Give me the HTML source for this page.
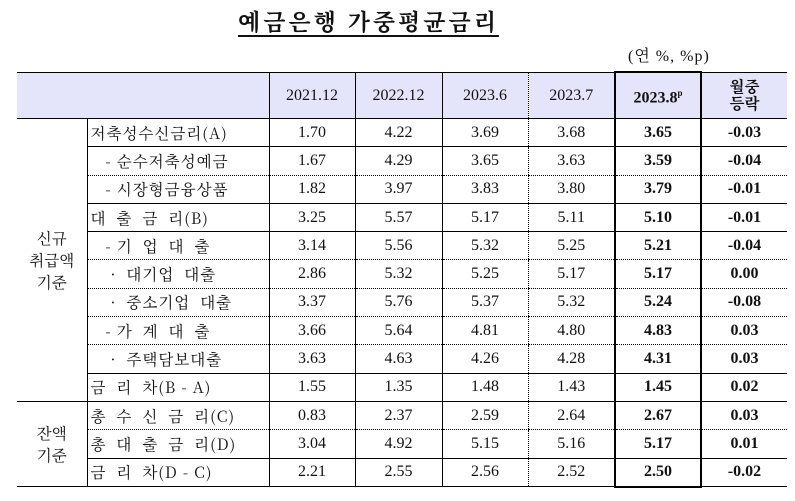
<!DOCTYPE html>
<html><head><meta charset="utf-8">
<style>
body{margin:0;width:795px;height:501px;background:#fff;position:relative;overflow:hidden;font-family:"Liberation Serif","Noto Serif CJK KR","Noto Serif CJK SC",serif;color:#111}
#title{position:absolute;left:238px;top:4px;font-size:23px;font-weight:bold;text-decoration:underline;text-underline-offset:5px;letter-spacing:3px;font-family:"Noto Serif CJK KR","Noto Sans CJK KR","Liberation Serif",serif}
#unit{position:absolute;left:628px;top:43px;font-size:16px;letter-spacing:1px}
table{position:absolute;left:17px;top:71px;border-collapse:collapse;table-layout:fixed;font-size:16px}
td{padding:0;border-top:none;border-bottom:1px solid #000;border-left:1px solid #000;text-align:center;white-space:pre;overflow:hidden}
td.first{border-left:none}
tr.h td{background:#e4e4fa;height:45px;line-height:17px;border-top:1px solid #000}
tr.r td{height:27.3px}
td.lab{text-align:left;padding-left:3px;letter-spacing:1px}
td.dl{border-left:1px dotted #000}
td.bx{border-left:2px solid #000;border-right:2px solid #000;font-weight:bold}
tr.d td.n{border-bottom:1px dotted #000}
tr.h td.bx{border-top:2px solid #000}
tr.last td.bx{border-bottom:2px solid #000}
td.g{border-bottom:1px solid #000}
.kr{font-family:"Noto Serif CJK KR","Noto Serif CJK SC","Liberation Serif",serif;font-size:15.5px}
</style></head><body>
<div id="title">예금은행 가중평균금리</div>
<div id="unit">(연 %, %p)</div>
<table>
<colgroup><col style="width:70px"><col style="width:182px"><col style="width:86px"><col style="width:87px"><col style="width:86px"><col style="width:87px"><col style="width:86px"><col style="width:86px"></colgroup>
<tr class="h"><td class="first" colspan="2"></td><td>2021.12</td><td>2022.12</td><td>2023.6</td><td class="dl">2023.7</td><td class="bx">2023.8<sup style="font-size:9px">p</sup></td><td class="kr" style="font-weight:bold">월중<br>등락</td></tr>
<tr class="r"><td class="first kr g" rowspan="10" style="line-height:22px">신규<br>취급액<br>기준</td><td class="lab kr n">저축성수신금리(A)</td><td class="n">1.70</td><td class="n">4.22</td><td class="n">3.69</td><td class="dl n">3.68</td><td class="bx n">3.65</td><td class="n" style="font-weight:bold">-0.03</td></tr>
<tr class="r d"><td class="lab kr n">   - 순수저축성예금</td><td class="n">1.67</td><td class="n">4.29</td><td class="n">3.65</td><td class="dl n">3.63</td><td class="bx n">3.59</td><td class="n" style="font-weight:bold">-0.04</td></tr>
<tr class="r"><td class="lab kr n">   - 시장형금융상품</td><td class="n">1.82</td><td class="n">3.97</td><td class="n">3.83</td><td class="dl n">3.80</td><td class="bx n">3.79</td><td class="n" style="font-weight:bold">-0.01</td></tr>
<tr class="r"><td class="lab kr n">대  출  금  리(B)</td><td class="n">3.25</td><td class="n">5.57</td><td class="n">5.17</td><td class="dl n">5.11</td><td class="bx n">5.10</td><td class="n" style="font-weight:bold">-0.01</td></tr>
<tr class="r d"><td class="lab kr n">   - 기  업  대  출</td><td class="n">3.14</td><td class="n">5.56</td><td class="n">5.32</td><td class="dl n">5.25</td><td class="bx n">5.21</td><td class="n" style="font-weight:bold">-0.04</td></tr>
<tr class="r d"><td class="lab kr n">    ·  대기업  대출</td><td class="n">2.86</td><td class="n">5.32</td><td class="n">5.25</td><td class="dl n">5.17</td><td class="bx n">5.17</td><td class="n" style="font-weight:bold">0.00</td></tr>
<tr class="r d"><td class="lab kr n">    ·  중소기업  대출</td><td class="n">3.37</td><td class="n">5.76</td><td class="n">5.37</td><td class="dl n">5.32</td><td class="bx n">5.24</td><td class="n" style="font-weight:bold">-0.08</td></tr>
<tr class="r d"><td class="lab kr n">   - 가  계  대  출</td><td class="n">3.66</td><td class="n">5.64</td><td class="n">4.81</td><td class="dl n">4.80</td><td class="bx n">4.83</td><td class="n" style="font-weight:bold">0.03</td></tr>
<tr class="r"><td class="lab kr n">    ·  주택담보대출</td><td class="n">3.63</td><td class="n">4.63</td><td class="n">4.26</td><td class="dl n">4.28</td><td class="bx n">4.31</td><td class="n" style="font-weight:bold">0.03</td></tr>
<tr class="r"><td class="lab kr n">금  리  차(B - A)</td><td class="n">1.55</td><td class="n">1.35</td><td class="n">1.48</td><td class="dl n">1.43</td><td class="bx n">1.45</td><td class="n" style="font-weight:bold">0.02</td></tr>
<tr class="r d"><td class="first kr g" rowspan="3" style="line-height:22px">잔액<br>기준</td><td class="lab kr n">총  수  신  금  리(C)</td><td class="n">0.83</td><td class="n">2.37</td><td class="n">2.59</td><td class="dl n">2.64</td><td class="bx n">2.67</td><td class="n" style="font-weight:bold">0.03</td></tr>
<tr class="r"><td class="lab kr n">총  대  출  금  리(D)</td><td class="n">3.04</td><td class="n">4.92</td><td class="n">5.15</td><td class="dl n">5.16</td><td class="bx n">5.17</td><td class="n" style="font-weight:bold">0.01</td></tr>
<tr class="r last"><td class="lab kr n">금  리  차(D - C)</td><td class="n">2.21</td><td class="n">2.55</td><td class="n">2.56</td><td class="dl n">2.52</td><td class="bx n">2.50</td><td class="n" style="font-weight:bold">-0.02</td></tr>
</table>
</body></html>
